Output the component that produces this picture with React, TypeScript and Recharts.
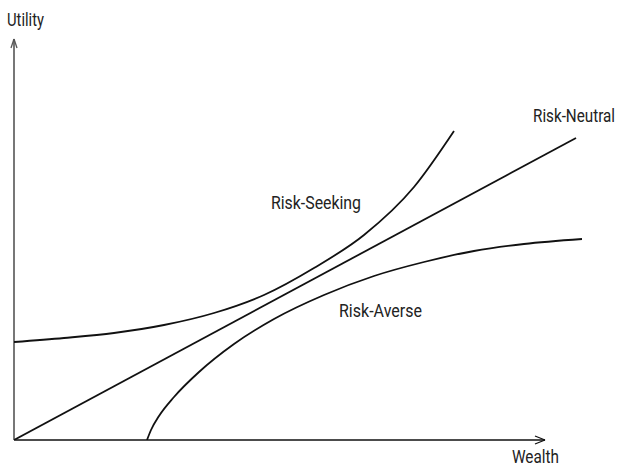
import React from "react";
import { LineChart, Line, XAxis, YAxis, ReferenceLine, ReferenceDot } from "recharts";

// Wealth (w) vs Utility (u)
const riskSeeking = [
  { w: 0, u: 98 }, { w: 50, u: 102 }, { w: 100, u: 107 }, { w: 150, u: 115 },
  { w: 200, u: 127 }, { w: 250, u: 145 }, { w: 300, u: 172 }, { w: 350, u: 205 },
  { w: 400, u: 253 }, { w: 440, u: 309 },
];
const riskNeutral = [
  { w: 0, u: 0 }, { w: 562, u: 302 },
];
const riskAverse = [
  { w: 133, u: 0 }, { w: 137, u: 10 }, { w: 145, u: 24 }, { w: 160, u: 43 },
  { w: 185, u: 68 }, { w: 220, u: 96 }, { w: 260, u: 121 }, { w: 310, u: 145 },
  { w: 360, u: 164 }, { w: 410, u: 178 }, { w: 460, u: 189 }, { w: 510, u: 196 },
  { w: 568, u: 201 },
];
const labels = [
  { text: "Utility", w: -7, u: 414, len: 37 },
  { text: "Wealth", w: 498, u: -23, len: 47 },
  { text: "Risk-Neutral", w: 519, u: 318, len: 82 },
  { text: "Risk-Seeking", w: 257, u: 231, len: 90 },
  { text: "Risk-Averse", w: 325, u: 123, len: 83 },
];

const FONT = "Roboto, 'Liberation Sans', sans-serif";

const LabelText = (text: string, len: number) => (props: any) => {
  const vb = props.viewBox || {};
  const x = (vb.x ?? 0) + (vb.width ?? 0) / 2;
  const y = (vb.y ?? 0) + (vb.height ?? 0) / 2;
  return (
    <text x={x} y={y} fill="#222" fontSize={18} fontFamily={FONT} textAnchor="start"
      textLength={len} lengthAdjust="spacingAndGlyphs">
      {text}
    </text>
  );
};

export default function App() {
  return (
    <div style={{ position: "absolute", left: 0, top: 0, width: 618, height: 466, background: "#fff" }}>
      <LineChart width={618} height={466} margin={{ top: 40, right: 4, bottom: 26, left: 14 }}>
        <XAxis type="number" dataKey="w" domain={[0, 600]} hide allowDataOverflow />
        <YAxis type="number" dataKey="u" domain={[0, 400]} hide width={0} allowDataOverflow />
        {/* axes */}
        <ReferenceLine segment={[{ x: 0, y: 0 }, { x: 531, y: 0 }]} stroke="#111" strokeWidth={1.5} ifOverflow="visible" />
        <ReferenceLine segment={[{ x: 521, y: 4 }, { x: 531, y: 0 }]} stroke="#111" strokeWidth={1.3} ifOverflow="visible" />
        <ReferenceLine segment={[{ x: 521, y: -4 }, { x: 531, y: 0 }]} stroke="#111" strokeWidth={1.3} ifOverflow="visible" />
        <ReferenceLine segment={[{ x: 0, y: 0 }, { x: 0, y: 401 }]} stroke="#555" strokeWidth={1.6} ifOverflow="visible" />
        <ReferenceLine segment={[{ x: -3, y: 392 }, { x: 0, y: 401 }]} stroke="#555" strokeWidth={1.3} ifOverflow="visible" />
        <ReferenceLine segment={[{ x: 3, y: 392 }, { x: 0, y: 401 }]} stroke="#555" strokeWidth={1.3} ifOverflow="visible" />
        <Line data={riskSeeking} dataKey="u" type="monotone" stroke="#111" strokeWidth={1.8} dot={false} isAnimationActive={false} />
        <Line data={riskNeutral} dataKey="u" type="linear" stroke="#111" strokeWidth={1.8} dot={false} isAnimationActive={false} />
        <Line data={riskAverse} dataKey="u" type="monotone" stroke="#111" strokeWidth={1.8} dot={false} isAnimationActive={false} />
        {labels.map((l) => (
          <ReferenceDot key={l.text} x={l.w} y={l.u} r={0} fill="none" stroke="none" ifOverflow="visible" label={LabelText(l.text, l.len)} />
        ))}
      </LineChart>
    </div>
  );
}
